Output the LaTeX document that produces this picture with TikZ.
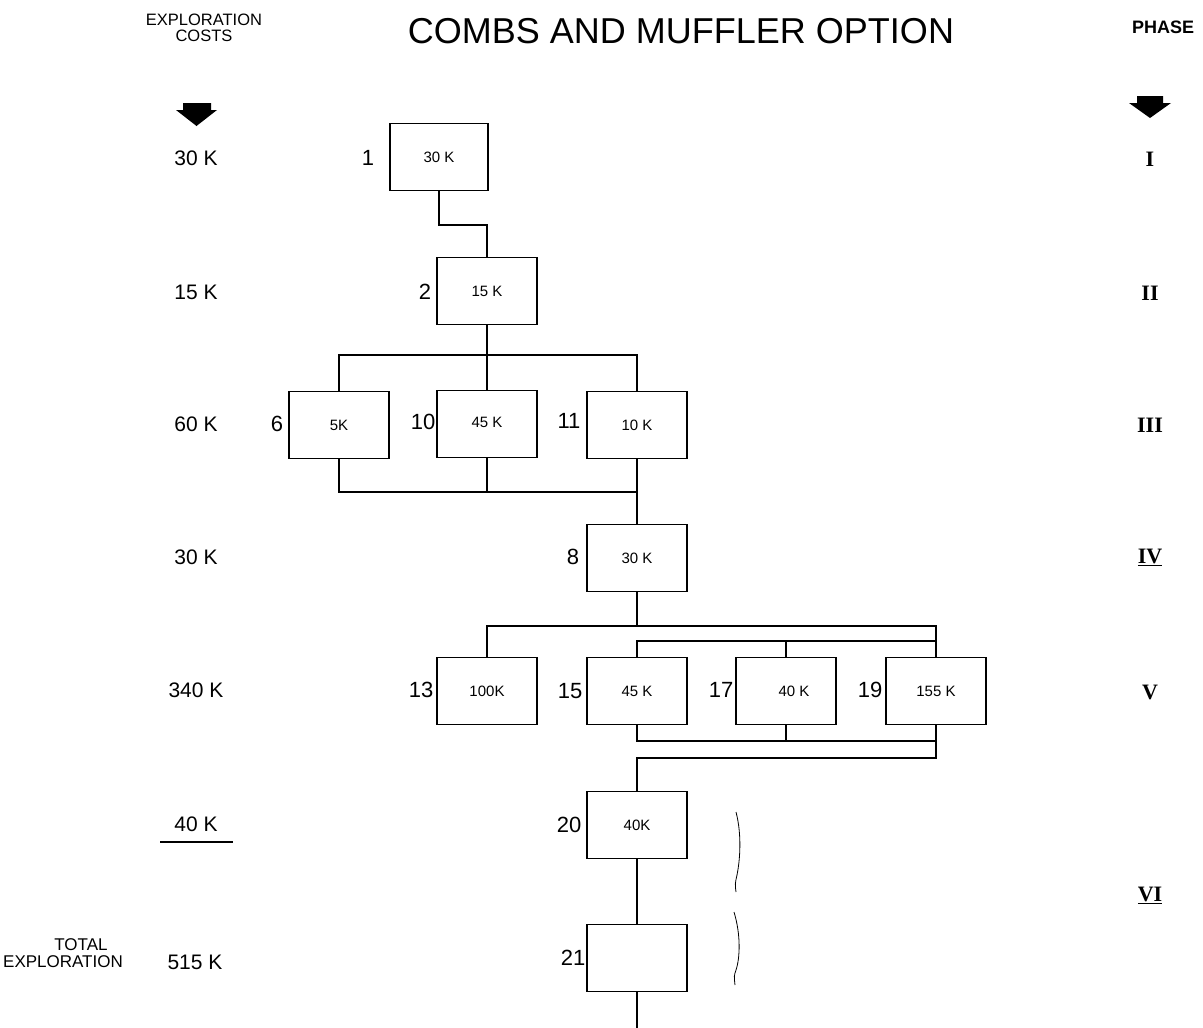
\documentclass[tikz,border=0pt]{standalone}
\usepackage{fontspec}
\setmainfont{Liberation Sans}
\newfontfamily\romfont{Liberation Serif}
\begin{document}
\begin{tikzpicture}[x=1pt,y=-1pt,
  box/.style={draw,line width=1.5pt,minimum width=100pt,minimum height=67pt,inner sep=0pt,font=\fontsize{15}{17}\selectfont},
  wire/.style={line width=1.8pt},
  num/.style={font=\fontsize{22}{24}\selectfont,inner sep=0pt},
  cost/.style={font=\fontsize{21}{23}\selectfont,inner sep=0pt},
  head/.style={font=\fontsize{16.5}{16.5}\selectfont,inner sep=0pt,align=center},
  phase/.style={font=\romfont\bfseries\fontsize{22}{24}\selectfont,inner sep=0pt},
  bigarrow/.style={fill=black},
  brace/.style={line width=0.8pt}]
\useasboundingbox (0,0) rectangle (1203,1028);
\fill[white] (0,0) rectangle (1203,1028);

% headers
\node[head] (hexp) at (204,28) {EXPLORATION\\COSTS};
\node[font=\fontsize{36}{38}\selectfont,inner sep=0pt] (title) at (681,31) {COMBS AND MUFFLER OPTION};
\node[font=\bfseries\fontsize{18}{18}\selectfont,inner sep=0pt] (hphase) at (1163,27) {PHASE};

% big arrows
\fill[bigarrow] (183,103) -- (211,103) -- (211,110) -- (217,110) -- (196.5,126) -- (176,110) -- (183,110) -- cycle;
\fill[bigarrow] (1137,96) -- (1163,96) -- (1163,103) -- (1171,103) -- (1150,118) -- (1129,103) -- (1137,103) -- cycle;

% boxes
\node[box,minimum width=98pt] (b1) at (439,157) {30 K};
\node[box] (b2) at (487,291) {15 K};
\node[box] (b6) at (339,425) {5K};
\node[box] (b10) at (487,424) {\raisebox{3pt}{45 K}};
\node[box] (b11) at (637,425) {10 K};
\node[box] (b8) at (637,558) {30 K};
\node[box] (b13) at (487,691) {100K};
\node[box] (b15) at (637,691) {45 K};
\node[box] (b17) at (786,691) {\hspace*{16pt}40 K};
\node[box] (b19) at (936,691) {155 K};
\node[box] (b20) at (637,825) {40K};
\node[box] (b21) at (637,958) {};

% box numbers
\node[num] (n1) at (368,158) {1};
\node[num] (n2) at (425,292) {2};
\node[num] (n6) at (277,424) {6};
\node[num] (n10) at (423,422) {10};
\node[num] (n11) at (569,421) {11};
\node[num] (n8) at (573,557) {8};
\node[num] (n13) at (421,690) {13};
\node[num] (n15) at (570,691) {15};
\node[num] (n17) at (721,690) {17};
\node[num] (n19) at (870,690) {19};
\node[num] (n20) at (569,825) {20};
\node[num] (n21) at (573,958) {21};

% connectors
\draw[wire] (b1.south) -- ++(0,34) -| (b2.north);
\coordinate (t3) at (487,355);
\draw[wire] (b6.north) |- (t3) -| (b11.north);
\draw[wire] (b2.south) -- (b10.north);
\coordinate (u3) at (487,492);
\draw[wire] (b6.south) |- (u3) -| (b11.south);
\draw[wire] (b10.south) -- (u3);
\draw[wire] (b11.south) -- (b8.north);
\coordinate (t5) at (637,626);
\draw[wire] (b8.south) -- (t5);
\draw[wire] (b13.north) |- (t5) -| (b19.north);
\coordinate (t5b) at (786,641);
\draw[wire] (b15.north) |- (t5b) -| (b19.north);
\draw[wire] (b17.north) -- (t5b);
\coordinate (u5) at (786,741);
\draw[wire] (b15.south) |- (u5) -| (b19.south);
\draw[wire] (b17.south) -- (u5);
\coordinate (v5) at (637,758);
\draw[wire] (b19.south) |- (v5) -- (b20.north);
\draw[wire] (b20.south) -- (b21.north);
\coordinate (tail) at (637,1028);
\draw[wire] (b21.south) -- (tail);

% braces
\draw[brace] (736,812) .. controls (742,835) and (740,860) .. (737,875) .. controls (735,884) .. (736,892);
\draw[brace] (734,912) .. controls (741,935) and (740,958) .. (736,970) .. controls (734,976) .. (735,985);

% cost column
\node[cost] (c1) at (196,158) {30 K};
\node[cost] (c2) at (196,292) {15 K};
\node[cost] (c3) at (196,424) {60 K};
\node[cost] (c4) at (196,557) {30 K};
\node[cost] (c5) at (196,690) {340 K};
\node[cost] (c6) at (196,824) {40 K};
\draw[line width=1.8pt] (160,842) -- (233,842);
\node[font=\fontsize{17}{17}\selectfont,inner sep=0pt] (tot) at (81,945) {TOTAL};
\node[font=\fontsize{17}{17}\selectfont,inner sep=0pt,anchor=west] (texp) at (3,962) {EXPLORATION};
\node[cost] (c7) at (195,962) {515 K};

% phase column
\node[phase] (p1) at (1150,159) {I};
\node[phase] (p2) at (1150,293) {II};
\node[phase] (p3) at (1150,425) {III};
\node[phase] (p4) at (1150,557) {\underline{IV}};
\node[phase] (p5) at (1150,692) {V};
\node[phase] (p6) at (1150,895) {\underline{VI}};
\end{tikzpicture}
\end{document}
